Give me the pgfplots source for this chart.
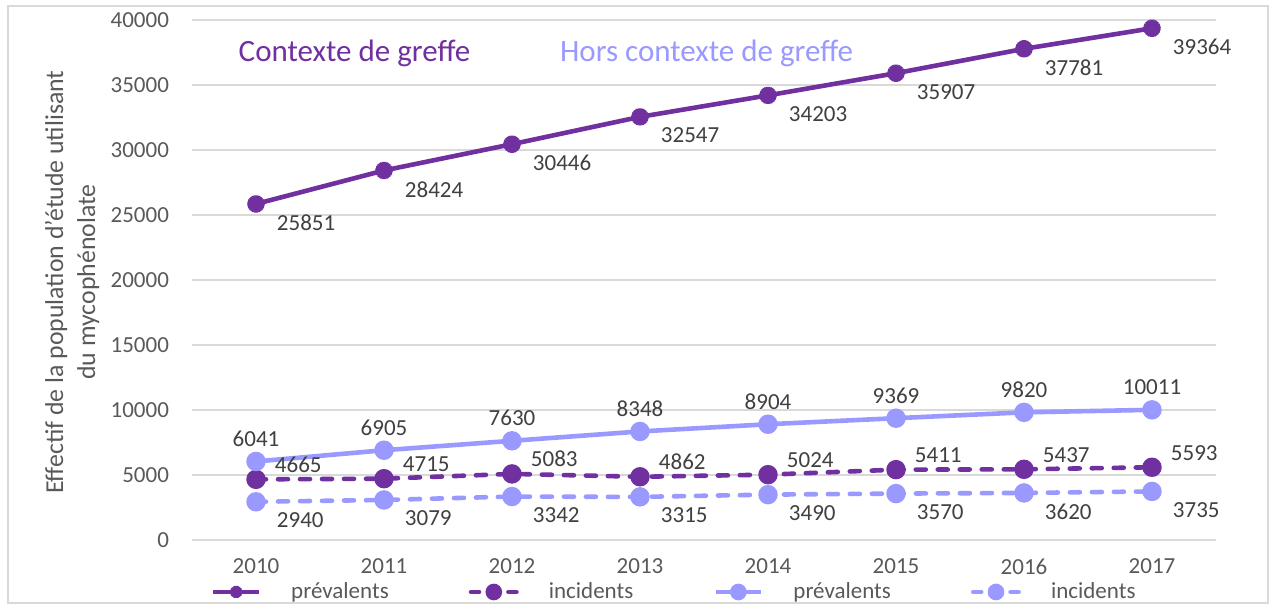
\documentclass[border=0pt]{standalone}
\usepackage{fontspec}
\setmainfont{Carlito}
\usepackage{pgfplots}
\pgfplotsset{compat=1.18}
\usetikzlibrary{plotmarks}
\definecolor{violetf}{HTML}{7030A0}
\definecolor{violetc}{HTML}{9999FF}
\definecolor{gristxt}{HTML}{595959}
\definecolor{grille}{HTML}{D9D9D9}
\definecolor{etiq}{HTML}{404040}

\begin{document}
\begin{tikzpicture}
\useasboundingbox (-96pt,-34pt) rectangle (542pt,270pt);
\draw[grille, line width=0.7pt] (-92pt,-31.5pt) rectangle (538pt,267pt);
\begin{axis}[
    scale only axis,
    width=512pt, height=260pt,
    xmin=-0.5, xmax=7.5,
    ymin=0, ymax=40000,
    xtick={0,1,2,3,4,5,6,7},
    xticklabels={2010,2011,2012,2013,2014,2015,2016,2017},
    ytick={0,5000,10000,15000,20000,25000,30000,35000,40000},
    scaled y ticks=false,
    axis line style={draw=none},
    major tick length=0pt,
    ymajorgrids=true,
    grid style={grille, line width=0.7pt},
    tick label style={font=\fontsize{11.5}{13}\selectfont, text=gristxt},
    xticklabel style={yshift=-6pt},
    yticklabel style={xshift=-8pt},
    nodes near coords style={font=\fontsize{11.5}{13}\selectfont, text=etiq},
    clip=false,
    legend columns=4,
    legend style={at={(0.472,-0.1)}, anchor=center, draw=none, fill=none,
        font=\fontsize{11.5}{13}\selectfont, text=gristxt,
        /tikz/every odd column/.append style={column sep=13pt},
        /tikz/every even column/.append style={column sep=38pt}},
    legend image code/.code={\draw[mark repeat=2,mark phase=2, mark size=3pt] plot coordinates {(0cm,0cm) (0.4cm,0cm) (0.8cm,0cm)};},
    /pgf/number format/.cd, 1000 sep={}, assume math mode=true,
]
% contexte de greffe - prevalents
\addplot[violetf, line width=2.3pt, mark=10-pointed star, mark size=4.3pt,
    mark options={solid, fill=violetf},
    nodes near coords, nodes near coords style={anchor=north west, xshift=6pt, yshift=-1pt}]
    coordinates {(0,25851) (1,28424) (2,30446) (3,32547) (4,34203) (5,35907) (6,37781) (7,39364)};
\addlegendentry{prévalents}
% contexte de greffe - incidents
\addplot[violetf, line width=2.3pt, line cap=round, dash pattern=on 5pt off 6pt,
    mark=*, mark size=3.7pt, mark options={solid, fill=violetf},
    legend image post style={dash pattern=on 4pt off 14.7pt},
    nodes near coords, nodes near coords style={anchor=south west, xshift=5pt, yshift=-1pt}]
    coordinates {(0,4665) (1,4715) (2,5083) (3,4862) (4,5024) (5,5411) (6,5437) (7,5593)};
\addlegendentry{incidents}
% hors contexte de greffe - prevalents
\addplot[violetc, line width=2.3pt, mark=*, mark size=3.7pt,
    mark options={solid, fill=violetc},
    nodes near coords, nodes near coords style={anchor=south, yshift=3pt}]
    coordinates {(0,6041) (1,6905) (2,7630) (3,8348) (4,8904) (5,9369) (6,9820) (7,10011)};
\addlegendentry{prévalents}
% hors contexte de greffe - incidents
\addplot[violetc, line width=2.3pt, line cap=round, dash pattern=on 5pt off 6pt,
    mark=*, mark size=3.7pt, mark options={solid, fill=violetc},
    legend image post style={dash pattern=on 4pt off 14.7pt},
    nodes near coords, nodes near coords style={anchor=north west, xshift=6pt, yshift=-1pt}]
    coordinates {(0,2940) (1,3079) (2,3342) (3,3315) (4,3490) (5,3570) (6,3620) (7,3735)};
\addlegendentry{incidents}

\node[anchor=west, text=violetf, font=\fontsize{15.5}{18}\selectfont] at (axis cs:-0.19,37460) {Contexte de greffe};
\node[anchor=center, text=violetc, font=\fontsize{15.5}{18}\selectfont] at (axis cs:3.52,37460) {Hors contexte de greffe};
\node[xshift=-60pt, rotate=90, align=center, text=gristxt, font=\fontsize{12.9}{16}\selectfont]
    at (rel axis cs:0,0.496) {Effectif de la population d'étude utilisant\\du mycophénolate};
\end{axis}
\end{tikzpicture}
\end{document}
